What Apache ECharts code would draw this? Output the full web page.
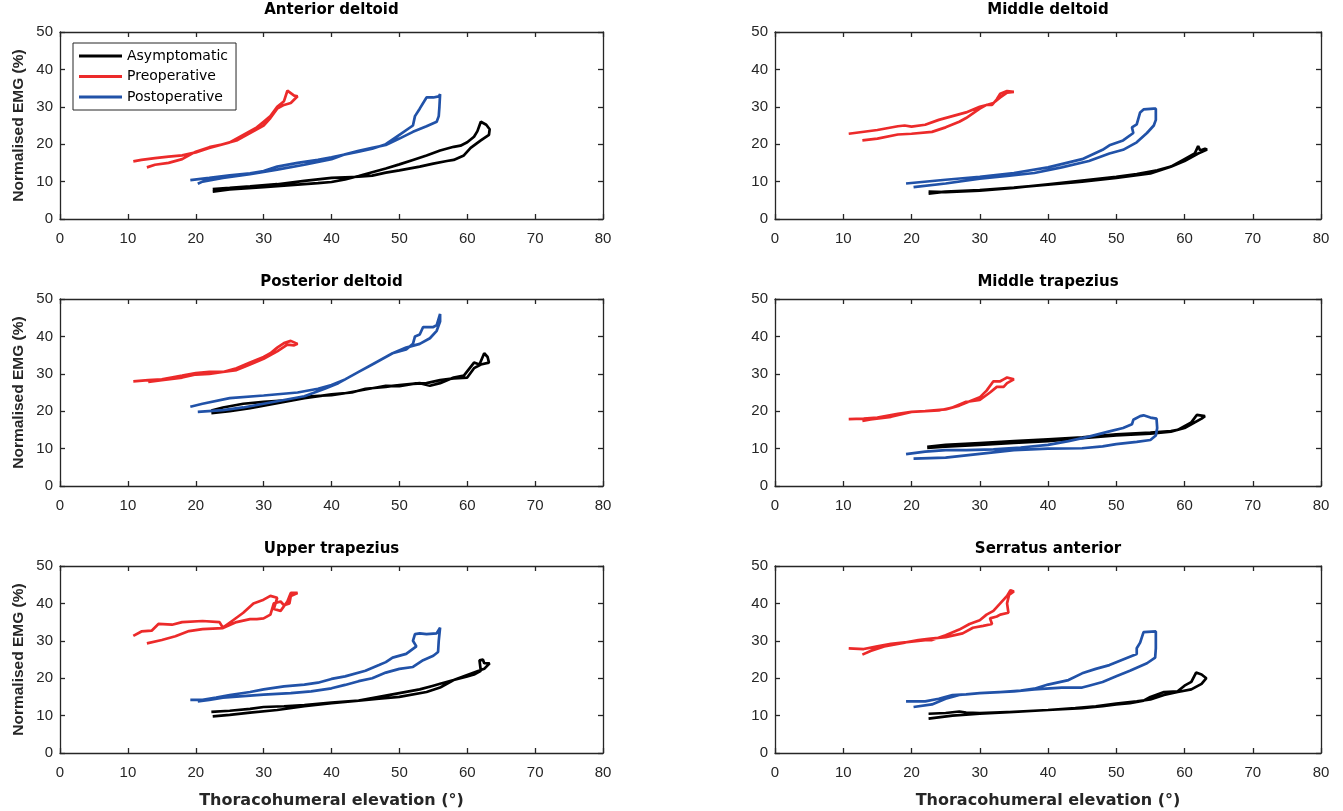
<!DOCTYPE html>
<html>
<head>
<meta charset="utf-8">
<script src="https://cdn.jsdelivr.net/npm/echarts@6/dist/echarts.min.js"></script>
<style>
  html, body { margin: 0; padding: 0; background: #fff; }
  #chart { width: 1343px; height: 811px; }
</style>
</head>
<body>
<div id="chart"></div>
<script>
// subplot titles and groups
const muscles = ['Anterior deltoid', 'Middle deltoid', 'Posterior deltoid', 'Middle trapezius', 'Upper trapezius', 'Serratus anterior']
const groups = ['Asymptomatic', 'Preoperative', 'Postoperative']

// [elevation, EMG] loops
const antDeltAsym = [[22.5,7.3],[25,7.9],[30,8.5],[35,9.2],[38,9.6],[40,9.9],[42,10.6],[44,11.5],[46,12.5],[48,13.5],[50,14.6],[52,15.8],[54,17],[56,18.3],[58,19.3],[59,19.6],[60,20.5],[61,22],[61.5,23.5],[61.8,25],[62,26],[62.8,25.2],[63.3,24],[63.2,22.5],[62,21],[60.5,19],[59.5,17],[58,15.8],[57,15.5],[55,14.8],[53,14],[50,13],[48,12.4],[46,11.6],[44,11.3],[40,11],[36,10.2],[32,9.3],[28,8.7],[25,8.3],[22.5,8]]
const antDeltPre = [[10.8,15.4],[12,15.8],[14,16.3],[16,16.7],[18,17],[20,17.8],[22,19],[25,20.5],[27,22.5],[29,24.5],[30,26],[31,27.5],[32,30],[33,31.5],[33.5,34.3],[34.5,33],[35,32.8],[34,31],[33,30.5],[32,29.5],[31,27],[30,25],[28,23],[26,21],[24,20],[22,19.2],[20,18],[18,16],[16,15],[14,14.5],[12.8,13.8]]
const antDeltPost = [[19.2,10.4],[22,11],[25,11.7],[28,12.2],[30,12.8],[32,14],[35,15],[38,15.8],[40,16.5],[44,18],[46,18.8],[48,20],[50,22.5],[52,25],[52.3,27.5],[53,29.5],[54,32.5],[55,32.5],[55.8,32.8],[56,33.4],[55.9,30],[55.8,27.5],[55.5,26],[54,24.8],[52,23.3],[50,21.5],[48,19.8],[46,19],[44,18.2],[42,17.3],[40,16],[36,14.5],[32,13.2],[28,12],[24,11],[21,10],[20.3,9.4]]

const midDeltAsym = [[22.5,7.3],[25,7.2],[30,7.6],[35,8.3],[40,9.3],[45,10.3],[50,11.3],[53,12],[56,13],[58,14],[60,16],[61.5,17.5],[62,19.5],[61.8,19.7],[62.3,18.3],[63,18.8],[63.3,18.6],[62,17.5],[60,15.5],[58,14],[55,12.2],[50,11],[45,10],[40,9.2],[35,8.4],[30,7.7],[25,7.3],[22.5,6.8]]
const midDeltPre = [[10.8,22.8],[15,23.8],[18,24.8],[19,25],[20,24.7],[22,25.2],[24,26.5],[26,27.5],[28,28.5],[30,30],[31,30.5],[32,31],[33,32.5],[34,33.8],[35,34],[34,34.2],[33,33.5],[32.5,32],[31.8,30.5],[31,30.5],[30,29.5],[28,27],[27,26],[25,24.5],[23,23.3],[20,22.8],[18,22.6],[15,21.5],[12.8,21]]
const midDeltPost = [[19.2,9.5],[25,10.5],[30,11.3],[35,12.3],[40,13.8],[45,16],[48,18.5],[49,19.7],[51,21],[52.5,23],[52.3,24.5],[53,25.3],[53.5,28.5],[54,29.3],[55.5,29.5],[55.8,29.5],[55.8,26.5],[55.5,25],[54.5,23],[53,20.5],[51,18.5],[49,17.5],[46,15.5],[42,13.8],[38,12.3],[34,11.5],[30,10.8],[25,9.5],[20.3,8.5]]

const postDeltAsym = [[22.3,19.5],[25,20],[28,20.8],[30,21.5],[33,22.5],[36,23.5],[40,24.5],[43,25],[45,26],[48,26.5],[50,27],[53,27.5],[54.5,26.8],[56,27.5],[58,29],[59.5,29.5],[61,33],[61.8,32.5],[62.5,35.5],[63,34.5],[63.2,33],[62,32.5],[61,31.5],[60,29],[58,28.8],[56,28.3],[54,27.5],[52,27.3],[50,26.7],[48,26.8],[45,25.8],[42,24.8],[40,24.3],[37,24],[34,23],[30,22.5],[27,22],[24,21],[22.3,20.2]]
const postDeltPre = [[10.8,28],[13,28.3],[15,28.5],[18,29.5],[20,30.2],[22,30.5],[24,30.5],[26,31.5],[28,33],[30,34.5],[31,35.5],[32,37],[33,38.2],[34,38.8],[35,38],[34.5,37.6],[33.5,37.8],[32,36],[31,35],[30,34],[28,32.5],[26,31],[24,30.5],[22,30],[20,29.8],[18,29],[15,28.3],[13,27.8]]
const postDeltPost = [[19.2,21.2],[21,22],[25,23.5],[30,24.2],[35,25],[38,26],[40,27],[42,28.5],[44,30.5],[46,32.5],[48,34.5],[49,35.5],[51,36.5],[52,38],[52.3,40],[53,40.5],[53.5,42.5],[55,42.5],[55.5,43],[56,46],[56,44],[55.5,41.5],[54.5,39.5],[53,38],[51,37],[49,35.5],[47,33.5],[45,31.5],[43,29.5],[41,27.5],[39,26],[36,24],[33,23],[30,22],[27,21],[24,20.3],[20.3,19.8]]

const midTrapAsym = [[22.3,10.5],[25,11],[30,11.5],[35,12],[40,12.5],[45,13],[50,13.8],[55,14.3],[58,14.7],[59,15],[60,16],[61,17],[61.8,19],[62,18.5],[63,18.7],[62.5,18],[61,16.5],[60,15.5],[58,14.5],[55,14],[50,13.5],[45,12.8],[40,12],[35,11.5],[30,11],[25,10.5],[22.3,10.2]]
const midTrapPre = [[10.8,17.9],[13,18],[15,18.3],[18,19.3],[20,19.8],[22,20],[25,20.5],[27,21.5],[29,23],[30,23.7],[31,25.5],[32,28],[33,28],[33.5,28.5],[34,29],[35,28.5],[34,27.5],[33.5,26.5],[32.5,26.5],[31.5,25],[30,23],[28,22.5],[26,21],[24,20.2],[20,19.8],[17,18.5],[14,17.8],[12.8,17.4]]
const midTrapPost = [[20.3,7.3],[25,7.6],[30,8.6],[35,9.6],[40,10],[45,10.1],[48,10.6],[50,11.2],[53,11.8],[55,12.3],[55.8,13.5],[56,15.5],[55.9,18],[55,18.3],[54,18.9],[53.5,18.7],[52.5,17.7],[52.3,16.5],[51,15.5],[49,14.6],[46,13.2],[43,12],[40,11],[36,10.3],[32,9.8],[28,9.6],[25,9.6],[22,9.2],[19.2,8.5]]

const upTrapAsym = [[22.3,11],[25,11.3],[28,11.8],[30,12.3],[33,12.5],[36,12.8],[40,13.5],[44,14],[47,15],[50,16],[53,17],[55,18],[56,18.5],[58,19.5],[60,20.5],[61,21],[62,22],[61.8,24.8],[62.3,25],[62.5,24],[63.3,24],[62.5,22.5],[61,21.5],[59.5,20.5],[58,19.5],[56,17.5],[54,16.3],[50,15],[47,14.5],[44,14],[40,13.3],[36,12.5],[32,11.5],[28,10.8],[25,10.2],[22.5,9.8]]
const upTrapPre = [[10.8,31.3],[12,32.5],[13.5,32.7],[14.5,34.5],[16.5,34.3],[18,35],[21,35.3],[23.5,35],[24,33.5],[25.5,35.5],[27,37.5],[28.5,40],[30,41],[31,42],[32,41.5],[31.5,38.5],[32.5,38],[33.5,40.5],[34,42.8],[35,42.8],[34,42],[33.8,40],[33,39.5],[32.5,40.5],[31.5,40],[31,37],[30,36],[29,35.8],[28,35.8],[26,35],[24,33.4],[21,33.1],[19,32.6],[17,31.2],[15,30.2],[12.8,29.3]]
const upTrapPost = [[19.2,14.2],[21,14.2],[23,14.8],[25,15.5],[28,16.3],[30,17],[33,17.8],[36,18.3],[38,18.8],[40,19.8],[42,20.5],[45,22],[47,23.5],[48,24.3],[49,25.5],[51,26.5],[52.5,28.5],[52,30],[52.3,31.8],[53,32],[54,31.8],[55.5,32],[56,33.5],[55.8,30],[55.7,27],[55,26],[53.5,24.8],[52,23],[50,22.5],[48,21.5],[46,20],[44,19.2],[42,18.2],[40,17.3],[37,16.5],[34,16],[30,15.6],[27,15.2],[24,14.8],[22,14.2],[20.3,13.8]]

const serrAsym = [[22.5,10.5],[25,10.7],[27,11.1],[28,10.8],[30,10.7],[35,11],[40,11.5],[45,12],[48,12.5],[50,13],[52,13.3],[54,14],[55,15],[57,16.3],[59,16.5],[60,18],[61,19],[61.7,21.5],[62.5,21],[63.2,20],[62.5,18.5],[61,17],[59,16.3],[57,15.5],[55,14.3],[53,13.8],[50,13.2],[47,12.5],[44,12],[40,11.5],[35,11],[30,10.5],[26,10],[22.5,9.2]]
const serrPre = [[10.8,28],[13,27.8],[15,28.5],[17,29.2],[20,29.8],[22,30.2],[23,30.2],[25,31.5],[27,33],[28.5,34.5],[30,35.5],[31,37],[32,38],[33,40],[34,42],[34.5,43.5],[35,43.2],[34.3,42.3],[34,40],[34.2,37.5],[33,37],[32.5,36.5],[31.5,36],[31.8,34.5],[30.5,34],[29,33.5],[27.5,32],[25,31],[22.5,30.5],[21,30.2],[19,29.5],[16,28.5],[14,27.3],[12.8,26.3]]
const serrPost = [[19.2,13.8],[22,13.8],[24,14.5],[26,15.5],[28,15.7],[30,16],[33,16.3],[36,16.7],[38,17.2],[40,18.3],[43,19.5],[45,21.3],[47,22.5],[49,23.5],[51,25],[53,26.5],[53,28],[53.5,29.5],[54,32.3],[55.8,32.5],[55.8,28],[55.7,25.5],[54.5,24],[52,22],[50,20.5],[48,19],[46,18],[45,17.5],[42,17.5],[38,17],[35,16.5],[30,16],[27,15.5],[25,14.5],[23,13],[20.3,12.3]]

const loops = [
  [antDeltAsym, antDeltPre, antDeltPost],
  [midDeltAsym, midDeltPre, midDeltPost],
  [postDeltAsym, postDeltPre, postDeltPost],
  [midTrapAsym, midTrapPre, midTrapPost],
  [upTrapAsym, upTrapPre, upTrapPost],
  [serrAsym, serrPre, serrPost]
]

const colors = ['#000000', '#ec2a2a', '#2152a8']
const font = 'Liberation Sans, Arial, Helvetica, sans-serif'
const wideFont = 'DejaVu Sans, Liberation Sans, sans-serif'
const ink = '#262626'
const cols = [{ left: 60, width: 543 }, { left: 775, width: 546 }]
const rowTops = [32, 299, 566]
const titleMid = [12, 284, 551]
const plotH = 187

const chart = echarts.init(document.getElementById('chart'))

const grids = []
const xAxes = []
const yAxes = []
const series = []
const titles = []

const lineStyle = { color: ink, width: 1.3 }

muscles.forEach((name, i) => {
  const col = cols[i % 2]
  const row = Math.floor(i / 2)
  grids.push({ left: col.left, top: rowTops[row], width: col.width, height: plotH })
  titles.push({
    text: name,
    left: col.left + col.width / 2,
    top: titleMid[row] - 9,
    textAlign: 'center',
    padding: 0,
    textStyle: { fontFamily: wideFont, fontSize: 15, fontWeight: 'bold', color: '#000' }
  })
  ;['bottom', 'top'].forEach((pos) => {
    xAxes.push({
      type: 'value', gridIndex: i, position: pos, min: 0, max: 80, interval: 10,
      name: pos === 'bottom' && row === 2 ? 'Thoracohumeral elevation (°)' : '',
      nameLocation: 'middle',
      nameGap: 40,
      nameTextStyle: { fontFamily: wideFont, fontSize: 16, fontWeight: 'bold', color: ink },
      axisLine: { show: true, onZero: false, lineStyle },
      axisTick: { show: true, inside: true, length: 5, lineStyle },
      axisLabel: { show: pos === 'bottom', margin: 12, fontFamily: font, fontSize: 15, color: ink },
      splitLine: { show: false }
    })
  })
  ;['left', 'right'].forEach((pos) => {
    yAxes.push({
      type: 'value', gridIndex: i, position: pos, min: 0, max: 50, interval: 10,
      name: pos === 'left' && i % 2 === 0 ? 'Normalised EMG (%)' : '',
      nameLocation: 'middle',
      nameGap: 33,
      nameTextStyle: { fontFamily: font, fontSize: 15.5, fontWeight: 'bold', color: ink },
      axisLine: { show: true, onZero: false, lineStyle },
      axisTick: { show: true, inside: true, length: 5, lineStyle },
      axisLabel: { show: pos === 'left', margin: 7, fontFamily: font, fontSize: 15, color: ink },
      splitLine: { show: false }
    })
  })
  loops[i].forEach((data, g) => {
    series.push({
      name: groups[g],
      type: 'line',
      xAxisIndex: i * 2,
      yAxisIndex: i * 2,
      data: data,
      symbol: 'none',
      smooth: false,
      lineStyle: { color: colors[g], width: 2.7 },
      itemStyle: { color: colors[g] },
      z: 3
    })
  })
})

chart.setOption({
  animation: false,
  backgroundColor: '#fff',
  color: colors,
  title: titles,
  legend: {
    data: groups,
    orient: 'vertical',
    left: 73,
    top: 43,
    icon: 'rect',
    itemWidth: 43,
    itemHeight: 3,
    itemGap: 6.5,
    padding: [6, 8, 6, 6],
    borderColor: ink,
    borderWidth: 1,
    borderRadius: 0,
    backgroundColor: '#fff',
    textStyle: { fontFamily: wideFont, fontSize: 14, color: '#000' }
  },
  grid: grids,
  xAxis: xAxes,
  yAxis: yAxes,
  series: series
})
</script>
</body>
</html>
